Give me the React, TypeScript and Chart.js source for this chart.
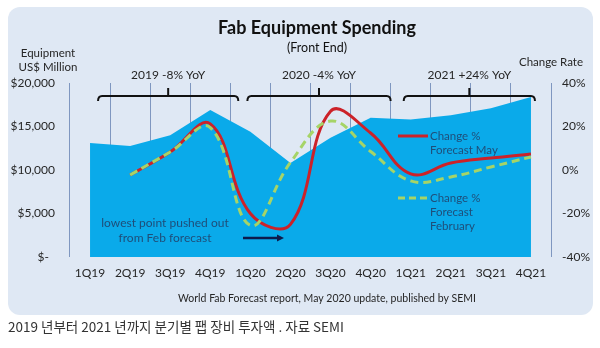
import React, { useEffect, useRef } from "react";
import { Chart, registerables } from "chart.js";

Chart.register(...registerables);

const quarters = ["1Q19", "2Q19", "3Q19", "4Q19", "1Q20", "2Q20", "3Q20", "4Q20", "1Q21", "2Q21", "3Q21", "4Q21"];
const spending = [13100, 12750, 14000, 16900, 14400, 10800, 13700, 16000, 15800, 16300, 17100, 18400];
const changeMay = [null, -2.3, 8.3, 21.2, -20, -25, 27, 17, -1.8, 3.2, 5.5, 7.4];
const changeFeb = [null, -2.3, 8.3, 19.5, -25.5, 3.5, 22.5, 8.5, -5, -3.2, 1.4, 6];
const leftTicks = [0, 5000, 10000, 15000, 20000];
const rightTicks = [-40, -20, 0, 20, 40];
const yoyLabels = ["2019 -8% YoY", "2020 -4% YoY", "2021 +24% YoY"];

const FONT = "Lato, 'Liberation Sans', sans-serif";
const TEXT = "#262626";
const NAVY = "#1f4e79";
const RED = "#cc2229";
const GREEN = "#a6d467";

const decor = {
  id: "decor",
  beforeDraw(chart: any) {
    const ctx = chart.ctx;
    ctx.save();
    ctx.fillStyle = "#ffffff";
    ctx.fillRect(0, 0, chart.width, chart.height);
    ctx.fillStyle = "#dfe8f4";
    ctx.beginPath();
    const x = 8, y = 7, w = 585, h = 308, r = 12;
    ctx.moveTo(x + r, y);
    ctx.arcTo(x + w, y, x + w, y + h, r);
    ctx.arcTo(x + w, y + h, x, y + h, r);
    ctx.arcTo(x, y + h, x, y, r);
    ctx.arcTo(x, y, x + w, y, r);
    ctx.closePath();
    ctx.fill();
    ctx.restore();
  },
  afterDraw(chart: any) {
    const ctx = chart.ctx;
    const xs = chart.scales.x;
    const px = (i: number) => xs.getPixelForValue(i);
    ctx.save();
    ctx.textBaseline = "middle";
    // Title
    ctx.fillStyle = "#111";
    ctx.textAlign = "center";
    ctx.font = `bold 18px ${FONT}`;
    ctx.fillText("Fab Equipment Spending", 317, 28);
    ctx.font = `12.5px ${FONT}`;
    ctx.fillText("(Front End)", 317, 48);
    // axis titles
    ctx.fillStyle = TEXT;
    ctx.font = `11.5px ${FONT}`;
    ctx.fillText("Equipment", 48, 53);
    ctx.fillText("US$ Million", 48, 67);
    ctx.fillText("Change Rate", 551, 62);
    // brackets
    const brackets = [
      [px(0) + 8, px(3) + 28],
      [px(4) - 3, px(7) + 20],
      [px(8) - 7, px(11) + 4],
    ];
    ctx.strokeStyle = "#111";
    ctx.lineWidth = 2;
    ctx.font = `12px ${FONT}`;
    ctx.fillStyle = TEXT;
    brackets.forEach(([a, b], i) => {
      const by = 96;
      ctx.beginPath();
      ctx.moveTo(a, by + 5);
      ctx.quadraticCurveTo(a, by, a + 4, by);
      ctx.lineTo(b - 4, by);
      ctx.quadraticCurveTo(b, by, b, by + 5);
      ctx.stroke();
      const c = (a + b) / 2;
      ctx.beginPath();
      ctx.moveTo(c, by);
      ctx.lineTo(c, by - 8);
      ctx.stroke();
      ctx.fillText(yoyLabels[i], c, 75);
    });
    // in-chart legend
    ctx.lineWidth = 3;
    ctx.strokeStyle = RED;
    ctx.beginPath();
    ctx.moveTo(398, 136);
    ctx.lineTo(428, 136);
    ctx.stroke();
    ctx.strokeStyle = GREEN;
    ctx.setLineDash([7, 4]);
    ctx.beginPath();
    ctx.moveTo(398, 198);
    ctx.lineTo(428, 198);
    ctx.stroke();
    ctx.setLineDash([]);
    ctx.fillStyle = NAVY;
    ctx.textAlign = "left";
    ctx.font = `11.5px ${FONT}`;
    ctx.fillText("Change %", 430, 136);
    ctx.fillText("Forecast May", 430, 150);
    ctx.fillText("Change %", 430, 198);
    ctx.fillText("Forecast", 430, 212);
    ctx.fillText("February", 430, 226);
    // annotation
    ctx.textAlign = "center";
    ctx.font = `12px ${FONT}`;
    ctx.fillText("lowest point pushed out", 165, 223);
    ctx.fillText("from Feb forecast", 165, 238);
    ctx.strokeStyle = "#0d1b4c";
    ctx.fillStyle = "#0d1b4c";
    ctx.lineWidth = 2.5;
    ctx.beginPath();
    ctx.moveTo(243, 238);
    ctx.lineTo(279, 238);
    ctx.stroke();
    ctx.beginPath();
    ctx.moveTo(284, 238);
    ctx.lineTo(277, 234.5);
    ctx.lineTo(277, 241.5);
    ctx.closePath();
    ctx.fill();
    // footer
    ctx.fillStyle = TEXT;
    ctx.font = `10.5px ${FONT}`;
    ctx.fillText("World Fab Forecast report, May 2020 update, published by SEMI", 327, 299);
    // caption
    ctx.textAlign = "left";
    ctx.fillStyle = "#333";
    ctx.font = `13.5px 'Noto Sans CJK KR', sans-serif`;
    ctx.fillText("2019 년부터 2021 년까지 분기별 팹 장비 투자액 . 자료 SEMI", 8, 327);
    ctx.restore();
  },
};

export default function App() {
  const ref = useRef<HTMLCanvasElement | null>(null);
  useEffect(() => {
    if (!ref.current) return;
    Chart.defaults.font.family = FONT;
    const chart = new Chart(ref.current, {
      type: "line",
      data: {
        labels: quarters,
        datasets: [
          {
            label: "Change % Forecast February",
            data: changeFeb as any,
            yAxisID: "y1",
            borderColor: GREEN,
            borderWidth: 3,
            borderDash: [8, 5],
            pointRadius: 0,
            tension: 0.4,
            fill: false,
            order: 0,
          },
          {
            label: "Change % Forecast May",
            data: changeMay as any,
            yAxisID: "y1",
            borderColor: RED,
            borderWidth: 3,
            pointRadius: 0,
            tension: 0.4,
            fill: false,
            order: 1,
          },
          {
            label: "Equipment US$ Million",
            data: spending,
            yAxisID: "y",
            borderWidth: 0,
            borderColor: "rgba(0,0,0,0)",
            backgroundColor: "#0aaaea",
            pointRadius: 0,
            tension: 0,
            fill: "origin",
            order: 2,
          },
        ],
      },
      options: {
        responsive: false,
        animation: false,
        devicePixelRatio: 1,
        layout: { padding: { top: 83, bottom: 61, left: 0, right: 0 } },
        plugins: { legend: { display: false }, tooltip: { enabled: false }, title: { display: false } },
        scales: {
          x: {
            offset: true,
            afterFit: (s: any) => { s.height = 30; },
            grid: { offset: true, color: "#7f97c0", lineWidth: 1, drawTicks: false },
            border: { display: false },
            ticks: { color: TEXT, font: { size: 12, family: FONT }, padding: 9, maxRotation: 0, autoSkip: false },
          },
          y: {
            position: "left",
            min: 0,
            max: 20000,
            afterFit: (s: any) => { s.width = 70; },
            afterBuildTicks: (s: any) => { s.ticks = leftTicks.map((v) => ({ value: v })); },
            grid: { display: false, drawTicks: false },
            border: { display: false },
            ticks: {
              color: TEXT,
              font: { size: 12, family: FONT },
              padding: 15,
              callback: (v: any) => (Number(v) === 0 ? "$-  " : "$" + Number(v).toLocaleString("en-US")),
            },
          },
          y1: {
            position: "right",
            min: -40,
            max: 40,
            afterFit: (s: any) => { s.width = 49; },
            afterBuildTicks: (s: any) => { s.ticks = rightTicks.map((v) => ({ value: v })); },
            grid: { display: false, drawTicks: false },
            border: { display: false },
            ticks: { color: TEXT, font: { size: 12, family: FONT }, padding: 11, callback: (v: any) => v + "%" },
          },
        },
      },
      plugins: [decor],
    });
    return () => chart.destroy();
  }, []);
  return (
    <div style={{ position: "absolute", left: 0, top: 0, width: 600, height: 348 }}>
      <canvas ref={ref} width={600} height={348} style={{ display: "block", width: 600, height: 348 }} />
    </div>
  );
}
